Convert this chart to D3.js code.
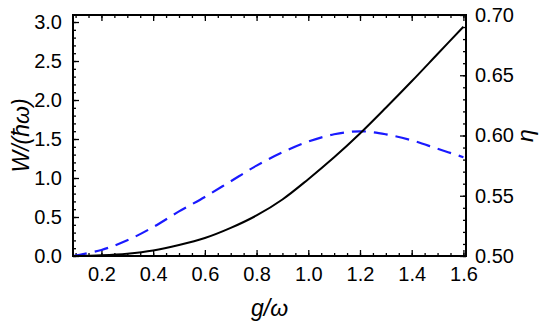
<!DOCTYPE html>
<html>
<head>
  <meta charset="utf-8">
  <title>W and eta vs g/omega</title>
  <script src="https://d3js.org/d3.v7.min.js"></script>
  <style>
    body { margin: 0; background: #fff; }
    text { font-family: "Liberation Sans", Arial, sans-serif; }
  </style>
</head>
<body>
  <script>
    // values
    let gValues   = [0.09, 0.2, 0.3, 0.4, 0.5, 0.6, 0.7, 0.8, 0.9, 1.0, 1.1, 1.2, 1.3, 1.4, 1.5, 1.6];
    let wValues   = [0, 0.01, 0.03, 0.07, 0.14, 0.23, 0.36, 0.52, 0.725, 0.985, 1.265, 1.57, 1.90, 2.24, 2.59, 2.94];
    let etaValues = [0.5, 0.505, 0.513, 0.524, 0.537, 0.549, 0.562, 0.575, 0.586, 0.595, 0.601, 0.6035, 0.601, 0.596, 0.589, 0.582];

    let xTicks    = [0.2, 0.4, 0.6, 0.8, 1.0, 1.2, 1.4, 1.6];
    let wTicks    = [0, 0.5, 1.0, 1.5, 2.0, 2.5, 3.0];
    let etaTicks  = [0.50, 0.55, 0.60, 0.65, 0.70];

    let width = 550, height = 332;
    let plotL = 73, plotR = 466, plotT = 15, plotB = 256;

    let svg = d3.select('body').append('svg')
      .attr('width', width)
      .attr('height', height);

    let x = d3.scaleLinear().domain([0.09, 1.61]).range([plotL, plotR]);
    let yW = d3.scaleLinear().domain([0, 3.09]).range([plotB, plotT]);
    let yEta = d3.scaleLinear().domain([0.5, 0.7]).range([plotB, plotT]);

    // minor ticks (no labels)
    let minorX = d3.range(0.1, 1.61, 0.05);
    let minorW = d3.range(0, 3.09, 0.1);
    let minorEta = d3.range(0.5, 0.701, 0.01);

    function drawAxis(axis, tx, ty) {
      let g = svg.append('g').attr('transform', `translate(${tx},${ty})`).call(axis);
      g.select('.domain').remove();
      g.selectAll('line').attr('stroke', '#000').attr('stroke-width', 1.3);
      return g;
    }

    // minor
    drawAxis(d3.axisBottom(x).tickValues(minorX).tickSize(-3).tickFormat(''), 0, plotB);
    drawAxis(d3.axisTop(x).tickValues(minorX).tickSize(-3).tickFormat(''), 0, plotT);
    drawAxis(d3.axisLeft(yW).tickValues(minorW).tickSize(-3).tickFormat(''), plotL, 0);
    drawAxis(d3.axisRight(yEta).tickValues(minorEta).tickSize(-3).tickFormat(''), plotR, 0);

    // major
    let gx = drawAxis(d3.axisBottom(x).tickValues(xTicks).tickSize(-6).tickPadding(11).tickFormat(d3.format('.1f')), 0, plotB);
    drawAxis(d3.axisTop(x).tickValues(xTicks).tickSize(-6).tickFormat(''), 0, plotT);
    let gl = drawAxis(d3.axisLeft(yW).tickValues(wTicks).tickSize(-6).tickPadding(11).tickFormat(d3.format('.1f')), plotL, 0);
    let gr = drawAxis(d3.axisRight(yEta).tickValues(etaTicks).tickSize(-6).tickPadding(9).tickFormat(d3.format('.2f')), plotR, 0);

    [gx, gl, gr].forEach(g => g.selectAll('text')
      .attr('fill', '#000')
      .style('font-size', '20px')
      .style('font-family', '"Liberation Sans", Arial, sans-serif'));

    // curves
    let lineW = d3.line()
      .x((d, i) => x(gValues[i]))
      .y(d => yW(d))
      .curve(d3.curveCatmullRom.alpha(0.5));

    let lineEta = d3.line()
      .x((d, i) => x(gValues[i]))
      .y(d => yEta(d))
      .curve(d3.curveCatmullRom.alpha(0.5));

    svg.append('path')
      .attr('d', lineEta(etaValues))
      .attr('fill', 'none')
      .attr('stroke', '#1a1aff')
      .attr('stroke-width', 2.2)
      .attr('stroke-dasharray', '14,8');

    svg.append('path')
      .attr('d', lineW(wValues))
      .attr('fill', 'none')
      .attr('stroke', '#000')
      .attr('stroke-width', 2);

    // frame
    svg.append('rect')
      .attr('x', plotL).attr('y', plotT)
      .attr('width', plotR - plotL).attr('height', plotB - plotT)
      .attr('fill', 'none')
      .attr('stroke', '#000')
      .attr('stroke-width', 2);

    // labels
    svg.append('text')
      .attr('transform', `translate(${(plotL + plotR) / 2},316)`)
      .attr('text-anchor', 'middle')
      .style('font-size', '23px')
      .style('font-style', 'italic')
      .text('g/ω');

    svg.append('text')
      .attr('transform', `translate(29,${(plotT + plotB) / 2}) rotate(-90)`)
      .attr('text-anchor', 'middle')
      .style('font-size', '23px')
      .style('font-style', 'italic')
      .text('W/(ħω)');

    svg.append('text')
      .attr('transform', `translate(533,${(plotT + plotB) / 2}) rotate(-90)`)
      .attr('text-anchor', 'middle')
      .style('font-size', '23px')
      .style('font-style', 'italic')
      .text('η');
  </script>
</body>
</html>
